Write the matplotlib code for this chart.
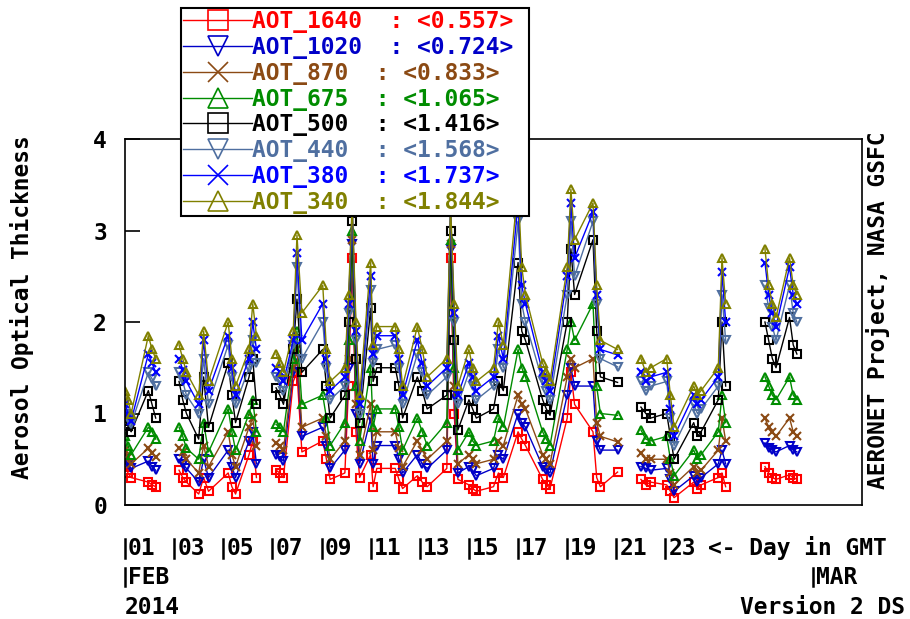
import numpy as np
import matplotlib
matplotlib.use('Agg')
import matplotlib.pyplot as plt
from matplotlib.lines import Line2D
from matplotlib.transforms import offset_copy

# ---- data (Feb 2014) ----
# day of Feb (1.0 = 01 FEB 00:00 GMT)
days = [1.02, 1.12, 1.25, 1.95, 2.1, 2.25, 3.2, 3.35, 3.5, 4.0, 4.2, 4.4,
        5.2, 5.35, 5.5, 6.05, 6.2, 6.35, 7.15, 7.3, 7.45, 7.85, 8.0, 8.2,
        9.05, 9.2, 9.35, 9.95, 10.1, 10.25, 10.4, 10.55, 11.0, 11.1, 11.25,
        12.0, 12.15, 12.3, 12.9, 13.1, 13.3, 14.1, 14.25, 14.4, 14.55,
        15.0, 15.15, 15.3, 16.0, 16.2, 16.4, 17.0, 17.15, 17.3, 18.0, 18.15, 18.3,
        19.0, 19.15, 19.3, 20.05, 20.2, 20.35, 21.05, 22.0, 22.2, 22.4,
        23.05, 23.2, 23.35, 24.15, 24.3, 24.45, 25.15, 25.3, 25.45,
        27.05, 27.2, 27.35, 27.5, 28.05, 28.2, 28.35]

# lines are not joined across these gaps
breaks_after = [2.25, 6.35, 21.05, 25.45]

aot_1640 = [0.42, 0.35, 0.30, 0.25, 0.22, 0.20, 0.38, 0.30, 0.25, 0.12, 0.30, 0.15,
            0.35, 0.20, 0.12, 0.55, 0.70, 0.30, 0.38, 0.35, 0.30, 1.35, 1.45, 0.58,
            0.70, 0.50, 0.28, 0.35, 1.30, 2.70, 0.80, 0.30, 0.55, 0.20, 0.40,
            0.40, 0.28, 0.18, 0.32, 0.25, 0.20, 0.40, 2.70, 1.00, 0.28,
            0.22, 0.18, 0.15, 0.20, 0.35, 0.30, 0.80, 0.72, 0.65, 0.28, 0.22, 0.18,
            0.95, 1.45, 1.10, 0.80, 0.30, 0.20, 0.36, 0.28, 0.22, 0.25,
            0.22, 0.15, 0.08, 0.25, 0.18, 0.22, 0.30, 0.35, 0.20,
            0.42, 0.35, 0.30, 0.28, 0.33, 0.30, 0.28]
aot_1020 = [0.50, 0.45, 0.40, 0.48, 0.42, 0.38, 0.50, 0.45, 0.40, 0.25, 0.50, 0.30,
            0.60, 0.42, 0.30, 0.70, 0.80, 0.45, 0.55, 0.52, 0.48, 1.45, 1.60, 0.75,
            0.85, 0.65, 0.40, 0.60, 1.50, 2.85, 1.00, 0.45, 0.95, 0.45, 0.65,
            0.65, 0.50, 0.35, 0.55, 0.45, 0.40, 0.60, 2.80, 1.20, 0.35,
            0.42, 0.38, 0.32, 0.40, 0.55, 0.50, 1.00, 0.90, 0.85, 0.42, 0.38, 0.35,
            1.20, 1.50, 1.30, 1.30, 0.70, 0.60, 0.60, 0.42, 0.40, 0.38,
            0.40, 0.28, 0.15, 0.32, 0.25, 0.30, 0.45, 0.60, 0.45,
            0.68, 0.62, 0.60, 0.58, 0.65, 0.60, 0.58]
aot_870 = [0.60, 0.52, 0.45, 0.62, 0.57, 0.52, 0.62, 0.58, 0.50, 0.35, 0.65, 0.42,
           0.80, 0.55, 0.42, 0.85, 0.95, 0.65, 0.68, 0.65, 0.60, 1.50, 1.70, 0.85,
           0.95, 0.75, 0.50, 0.70, 1.60, 2.90, 1.10, 0.55, 1.10, 0.60, 0.80,
           0.80, 0.62, 0.42, 0.70, 0.60, 0.50, 0.70, 2.85, 1.30, 0.45,
           0.55, 0.50, 0.45, 0.50, 0.70, 0.65, 1.20, 1.10, 1.05, 0.55, 0.50, 0.45,
           1.40, 1.60, 1.50, 1.60, 0.90, 0.75, 0.69, 0.57, 0.50, 0.50,
           0.50, 0.35, 0.22, 0.42, 0.35, 0.38, 0.60, 0.95, 0.70,
           0.95, 0.85, 0.80, 0.75, 0.95, 0.80, 0.75]
aot_675 = [0.75, 0.65, 0.55, 0.85, 0.80, 0.72, 0.85, 0.75, 0.62, 0.50, 0.90, 0.58,
           1.05, 0.80, 0.60, 1.00, 1.15, 0.80, 0.88, 0.85, 0.80, 1.60, 1.90, 1.10,
           1.20, 0.95, 0.65, 0.90, 1.80, 3.00, 1.30, 0.70, 1.50, 0.85, 1.05,
           1.05, 0.85, 0.60, 0.95, 0.80, 0.65, 0.90, 2.90, 1.50, 0.60,
           0.80, 0.70, 0.65, 0.70, 0.95, 0.85, 1.70, 1.50, 1.40, 0.80, 0.72, 0.65,
           1.70, 2.00, 1.80, 2.20, 1.30, 1.00, 0.98, 0.82, 0.72, 0.70,
           0.75, 0.50, 0.32, 0.60, 0.50, 0.55, 0.80, 1.20, 0.90,
           1.40, 1.30, 1.20, 1.15, 1.40, 1.20, 1.15]
aot_500 = [0.92, 0.86, 0.80, 1.25, 1.10, 0.95, 1.35, 1.15, 1.00, 0.72, 1.40, 0.85,
           1.55, 1.20, 0.90, 1.40, 1.60, 1.10, 1.28, 1.20, 1.10, 1.70, 2.25, 1.45,
           1.70, 1.30, 0.95, 1.20, 2.00, 3.10, 1.60, 0.90, 2.15, 1.35, 1.50,
           1.50, 1.30, 0.95, 1.40, 1.25, 1.05, 1.20, 3.00, 1.80, 0.82,
           1.15, 1.05, 0.95, 1.05, 1.35, 1.25, 2.65, 1.90, 1.80, 1.15, 1.05, 0.98,
           2.00, 2.80, 2.30, 2.90, 1.90, 1.40, 1.34, 1.07, 1.00, 0.95,
           1.00, 0.75, 0.50, 0.90, 0.75, 0.80, 1.15, 2.00, 1.30,
           2.00, 1.80, 1.60, 1.50, 2.05, 1.75, 1.65]
aot_440 = [1.00, 0.95, 0.88, 1.45, 1.38, 1.30, 1.45, 1.35, 1.20, 1.00, 1.60, 1.10,
           1.75, 1.40, 1.10, 1.50, 1.80, 1.55, 1.40, 1.35, 1.25, 1.75, 2.60, 1.60,
           2.00, 1.50, 1.15, 1.30, 2.10, 3.20, 1.80, 1.00, 2.35, 1.55, 1.70,
           1.75, 1.50, 1.10, 1.65, 1.45, 1.20, 1.40, 3.20, 2.00, 1.10,
           1.45, 1.30, 1.15, 1.30, 1.70, 1.50, 3.10, 2.20, 2.00, 1.35, 1.25, 1.15,
           2.30, 3.10, 2.50, 3.10, 2.20, 1.60, 1.51, 1.35, 1.25, 1.30,
           1.35, 0.95, 0.65, 1.10, 1.00, 1.05, 1.30, 2.30, 1.80,
           2.40, 2.15, 1.95, 1.80, 2.40, 2.10, 2.00]
aot_380 = [1.10, 1.00, 0.92, 1.65, 1.55, 1.45, 1.60, 1.48, 1.35, 1.10, 1.80, 1.25,
           1.85, 1.50, 1.20, 1.60, 2.00, 1.70, 1.50, 1.45, 1.35, 1.80, 2.75, 1.80,
           2.20, 1.60, 1.25, 1.40, 2.20, 3.25, 1.90, 1.10, 2.50, 1.65, 1.85,
           1.85, 1.60, 1.20, 1.80, 1.55, 1.30, 1.50, 3.25, 2.10, 1.20,
           1.55, 1.40, 1.25, 1.40, 1.85, 1.60, 3.30, 2.40, 2.20, 1.45, 1.35, 1.25,
           2.50, 3.30, 2.70, 3.20, 2.30, 1.70, 1.64, 1.45, 1.35, 1.40,
           1.45, 1.05, 0.75, 1.20, 1.10, 1.15, 1.40, 2.55, 2.00,
           2.65, 2.30, 2.10, 1.95, 2.60, 2.30, 2.20]
aot_340 = [1.25, 1.15, 1.00, 1.85, 1.70, 1.60, 1.75, 1.60, 1.45, 1.20, 1.90, 1.35,
           2.00, 1.60, 1.30, 1.70, 2.20, 1.85, 1.65, 1.55, 1.45, 1.90, 2.95, 2.10,
           2.40, 1.70, 1.35, 1.50, 2.30, 3.30, 2.00, 1.20, 2.65, 1.75, 1.95,
           1.95, 1.70, 1.30, 1.95, 1.70, 1.40, 1.60, 3.30, 2.20, 1.30,
           1.70, 1.50, 1.35, 1.50, 2.00, 1.75, 3.50, 2.60, 2.30, 1.55, 1.45, 1.35,
           2.60, 3.45, 2.90, 3.30, 2.40, 1.80, 1.70, 1.60, 1.45, 1.50,
           1.60, 1.20, 0.85, 1.30, 1.20, 1.25, 1.50, 2.70, 2.20,
           2.80, 2.40, 2.20, 2.05, 2.70, 2.40, 2.30]

names = ['AOT_1640', 'AOT_1020', 'AOT_870', 'AOT_675', 'AOT_500', 'AOT_440', 'AOT_380', 'AOT_340']
means = [0.557, 0.724, 0.833, 1.065, 1.416, 1.568, 1.737, 1.844]
series = [aot_1640, aot_1020, aot_870, aot_675, aot_500, aot_440, aot_380, aot_340]
colors = ['#ff0000', '#0000c8', '#8b4a14', '#008c00', '#000000', '#4f6fa0', '#0000ff', '#808000']
markers = ['s', 'v', 'x', '^', 's', 'v', 'x', '^']

day_ticks = [1, 3, 5, 7, 9, 11, 13, 15, 17, 19, 21, 23]
day_labels = ['01', '03', '05', '07', '09', '11', '13', '15', '17', '19', '21', '23']


def with_breaks(x, y):
    xs, ys = [], []
    for xi, yi in zip(x, y):
        xs.append(xi)
        ys.append(yi)
        if xi in breaks_after:
            xs.append(np.nan)
            ys.append(np.nan)
    return xs, ys


plt.rcParams['font.family'] = 'DejaVu Sans Mono'
plt.rcParams['font.weight'] = 'bold'
FS = 16.5

fig = plt.figure(figsize=(9.1, 6.19), dpi=100)
ax = fig.add_axes([125 / 910, 1 - 505 / 619, (862 - 125) / 910, (505 - 139) / 619])

for vals, c, m in zip(series, colors, markers):
    xs, ys = with_breaks(days, vals)
    ax.plot(xs, ys, color=c, lw=1, marker=m, ms=6, mfc='none', mew=1.5)

ax.set_xlim(1, 31)
ax.set_ylim(0, 4)
ax.set_yticks([0, 1, 2, 3, 4])
ax.set_xticks([])
ax.tick_params(axis='y', direction='in', length=11, width=1.2, labelsize=FS, pad=13)
for s in ax.spines.values():
    s.set_linewidth(1.2)

# day labels with little bars, like the original
xtr = ax.get_xaxis_transform()
txt_tr = offset_copy(xtr, fig=fig, x=3, units='dots')
for d, lab in zip(day_ticks, day_labels):
    ax.plot([d, d], [-0.094, -0.144], transform=xtr, color='k', lw=1.8, clip_on=False)
    ax.text(d, -0.119, lab, transform=txt_tr, ha='left', va='center', fontsize=FS)
for d, lab in [(1, 'FEB'), (29, 'MAR')]:
    ax.plot([d, d], [-0.172, -0.221], transform=xtr, color='k', lw=1.8, clip_on=False)
    ax.text(d, -0.197, lab, transform=txt_tr, ha='left', va='center', fontsize=FS)
ax.text(1, -0.279, '2014', transform=xtr, ha='left', va='center', fontsize=FS)

fig.text(708 / 910, 1 - 548 / 619, '<- Day in GMT', ha='left', va='center', fontsize=FS)
fig.text(905 / 910, 1 - 607 / 619, 'Version 2 DS', ha='right', va='center', fontsize=FS)
fig.text(22 / 910, 1 - 307 / 619, 'Aerosol Optical Thickness', rotation=90,
         ha='center', va='center', fontsize=FS)
fig.text(878 / 910, 1 - 310 / 619, 'AERONET Project, NASA GSFC', rotation=90,
         ha='center', va='center', fontsize=FS)

# legend
handles = [Line2D([], [], color=c, lw=1, marker=m, ms=15, mfc='none', mew=1.2)
           for c, m in zip(colors, markers)]
labels = [f'{n}  : <{v:.3f}> ' for n, v in zip(names, means)]
leg = ax.legend(handles, labels, loc='upper left', bbox_to_anchor=(181 / 910, 1 - 8 / 619),
                bbox_transform=fig.transFigure, fontsize=FS, frameon=True, fancybox=False,
                framealpha=1, edgecolor='k', borderpad=0.1, handlelength=3.0,
                handletextpad=0.0, labelspacing=0.12, borderaxespad=0)
leg.get_frame().set_linewidth(1.5)
for t, c in zip(leg.get_texts(), colors):
    t.set_color(c)

fig.savefig('out.png', dpi=100)
